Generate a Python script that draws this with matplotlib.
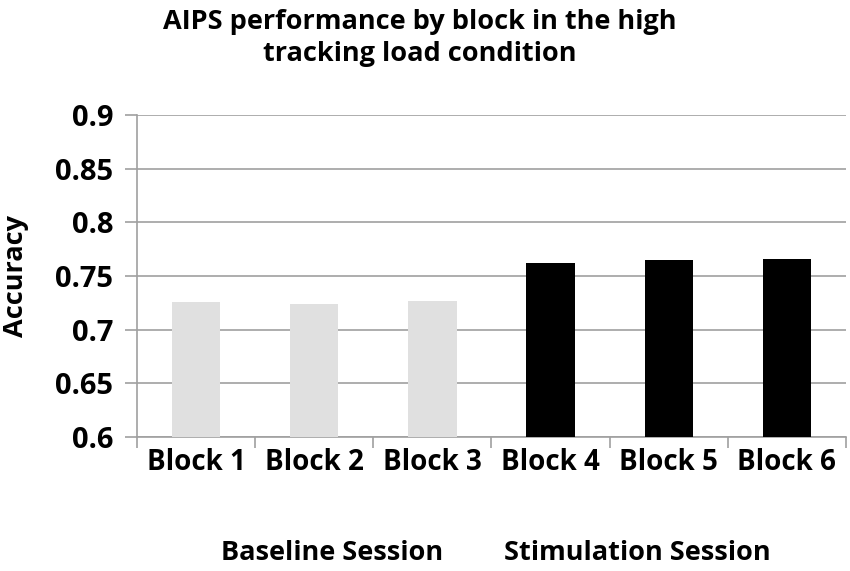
import matplotlib
matplotlib.use("Agg")
import matplotlib.pyplot as plt
import matplotlib.transforms as mtransforms

blocks = ["Block 1", "Block 2", "Block 3", "Block 4", "Block 5", "Block 6"]
accuracy = [0.7255, 0.724, 0.7265, 0.762, 0.765, 0.7655]
sessions = ["Baseline Session", "Stimulation Session"]
session_x = [1.15, 3.73]
y_ticks = [0.6, 0.65, 0.7, 0.75, 0.8, 0.85, 0.9]
y_tick_labels = ["0.6", "0.65", "0.7", "0.75", "0.8", "0.85", "0.9"]

bar_colors = ["#e0e0e0"] * 3 + ["#000000"] * 3
grid_color = "#a0a0a0"

plt.rcParams["font.family"] = ["Open Sans", "DejaVu Sans"]
plt.rcParams["font.weight"] = "bold"

fig = plt.figure(figsize=(8.5, 5.71), dpi=100, facecolor="white")
ax = fig.add_axes([137 / 850, 0.2347, 709 / 850, 0.5639])

x = list(range(len(blocks)))
ax.bar(x, accuracy, width=0.41, color=bar_colors, zorder=3)

ax.set_xlim(-0.5, len(blocks) - 0.5)
ax.set_ylim(0.6, 0.9)
ax.set_yticks(y_ticks)
ax.set_yticklabels(y_tick_labels, fontsize=21, fontweight="bold")
ax.yaxis.grid(True, color=grid_color, linewidth=1.2, zorder=0)

# category labels under the bars, tick marks at the category edges
ax.set_xticks([i - 0.5 for i in range(len(blocks) + 1)])
ax.set_xticklabels([])
ax.set_xticks(x, minor=True)
ax.set_xticklabels(blocks, minor=True, fontsize=20, fontweight="bold")
ax.tick_params(axis="x", which="major", length=8, color=grid_color, width=1.2)
ax.tick_params(axis="x", which="minor", length=0, pad=8)
ax.tick_params(axis="y", length=9, color=grid_color, width=1.2, pad=8)

for side in ["top", "right"]:
    ax.spines[side].set_visible(False)
for side in ["left", "bottom"]:
    ax.spines[side].set_color(grid_color)
    ax.spines[side].set_linewidth(1.2)

ax.set_ylabel("Accuracy", fontsize=19.5, fontweight="bold")
ax.yaxis.set_label_coords(-108 / 709, 0.5)

trans = mtransforms.blended_transform_factory(ax.transData, fig.transFigure)
for label, sx in zip(sessions, session_x):
    ax.text(sx, 1 - 553 / 571, label, transform=trans, ha="center", va="center",
            fontsize=19.5, fontweight="bold")

fig.text(420 / 850, 1 - 38 / 571, "AIPS performance by block in the high\ntracking load condition",
         ha="center", va="center", fontsize=19.5, fontweight="bold", linespacing=1.3)

fig.savefig("out.png", dpi=100)
